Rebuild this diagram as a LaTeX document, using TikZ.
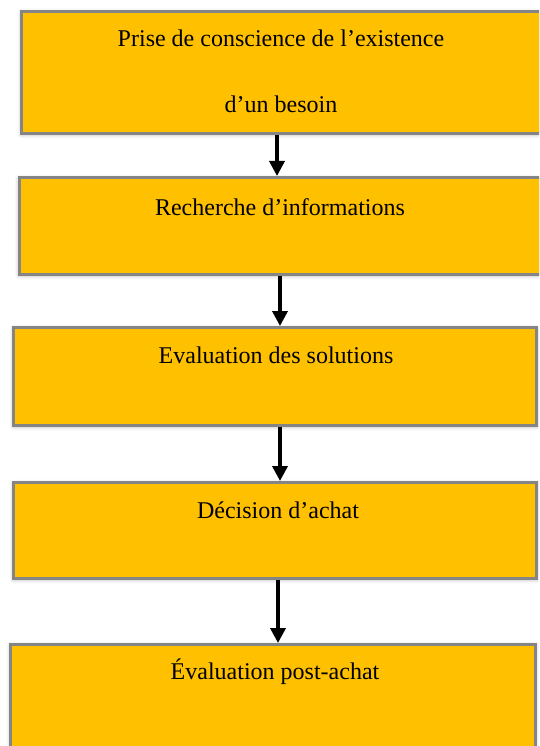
\documentclass[tikz,border=0pt]{standalone}
\usepackage{fontspec}
\setmainfont{Liberation Serif}
\usetikzlibrary{arrows.meta,shadows.blur}
\definecolor{gold}{HTML}{FFC000}
\definecolor{rim}{HTML}{858585}
\begin{document}
\begin{tikzpicture}[x=1pt,y=-1pt,
			box/.style={rectangle,draw=rim,fill=gold,line width=3pt,anchor=north west,inner sep=0,
				blur shadow={shadow xshift=0pt,shadow yshift=-1pt,shadow blur radius=4pt,shadow opacity=35}},
			txt/.style={align=center,font=\fontsize{24}{66}\selectfont},
			arr/.style={-{Triangle[width=15pt,length=15pt]},line width=3.5pt}]
			\useasboundingbox (0,0) rectangle (539,746);
			\clip (0,0) rectangle (539,746);
			\node[box,minimum width=528pt,minimum height=122pt] (1) at (20,10) {};
			\node[box,minimum width=523pt,minimum height=97pt] (2) at (17.5,176) {};
			\node[box,minimum width=523pt,minimum height=98pt] (3) at (12,326) {};
			\node[box,minimum width=523pt,minimum height=96pt] (4) at (12,481) {};
			\node[box,minimum width=525pt,minimum height=124pt] (5) at (9,643) {};
			\node[txt] (t1) at (281,71) {Prise de conscience de l’existence\\d’un besoin};
			\node[txt] (t2) at (280,207) {Recherche d’informations};
			\node[txt] (t3) at (276,355) {Evaluation des solutions};
			\node[txt] (t4) at (278,510) {Décision d’achat};
			\node[txt] (t5) at (275,672) {Évaluation post-achat};
			\coordinate (a1) at (277,0); \coordinate (a2) at (280,0);
			\coordinate (a3) at (280,0); \coordinate (a4) at (278,0);
			\draw[arr] (1.south -| a1) -- (2.north -| a1);
			\draw[arr] (2.south -| a2) -- (3.north -| a2);
			\draw[arr] (3.south -| a3) -- (4.north -| a3);
			\draw[arr] (4.south -| a4) -- (5.north -| a4);
		\end{tikzpicture}
\end{document}
